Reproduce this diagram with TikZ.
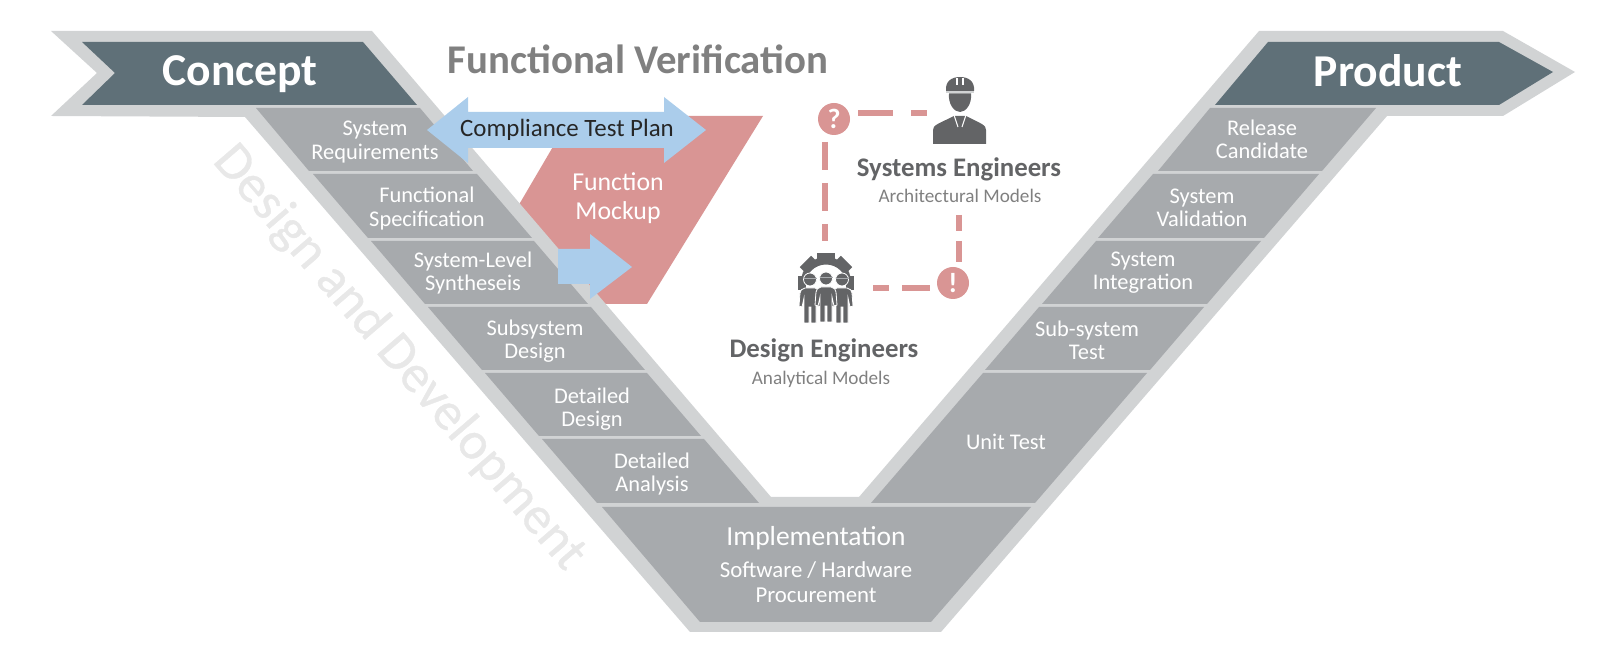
\documentclass[tikz,border=0pt]{standalone}
\usepackage{xcolor}
\usepackage{fontspec}
\setmainfont{Carlito}
\newfontfamily\phasefont[FakeBold=0.7]{Carlito}
\definecolor{vgrey}{HTML}{D1D3D4}
\definecolor{bandgrey}{HTML}{A7AAAD}
\definecolor{slate}{HTML}{5F7078}
\definecolor{mockup}{HTML}{D99594}
\definecolor{planblue}{HTML}{ABCDEB}
\definecolor{icongrey}{HTML}{636466}
\newcommand{\bandfont}{\fontsize{11.2}{11.6}\selectfont}
\newcommand{\workerfig}[2]{%
\begin{scope}[shift={(#1,#2)}]
\fill [icongrey,draw=white,line width=0.4] (-10,292) .. controls (-10,289) and (-8,288) .. (-5,287) -- (5,287) .. controls (8,288) and (10,289) .. (10,292) -- (11,305) -- (8,306) -- (6,297) -- (6,322) -- (1,322) -- (1,306) -- (-1,306) -- (-1,322) -- (-6,322) -- (-6,297) -- (-8,306) -- (-11,305) -- cycle;
\fill [icongrey,draw=white,line width=0.4] (0,278.5) circle (6.5);
\draw [bandgrey,line width=0.3pt] (-6.5,277) -- (6.5,277);
\end{scope}}
\tikzset{
  bandtext/.style={text=white,align=center,inner sep=0.75pt,font=\bandfont},
  headtext/.style={text=white,inner sep=0.75pt,text depth=0pt,font=\fontsize{22.8}{24}\selectfont\bfseries},
  roletext/.style={text=icongrey,inner sep=0.75pt,font=\fontsize{13.4}{14}\selectfont\bfseries},
  modeltext/.style={text=black!50,inner sep=0.75pt,font=\fontsize{9.6}{11}\selectfont},
  alertmark/.style={circle,fill=mockup,text=white,minimum size=16pt,inner sep=0pt,font=\fontsize{14}{15}\selectfont\bfseries},
  linkdash/.style={draw=mockup,line width=2.7pt}
}
\begin{document}
\begin{tikzpicture}[x=0.5pt,y=0.5pt,yscale=-1,xscale=1]
\useasboundingbox (0,0) rectangle (1600,672);
%Mockup behind the V
\fill [mockup] (571,116) -- (763,116) -- (647,304) -- (560,304) -- (500,237) -- cycle;
%Outer V
\fill [vgrey] (51,31) -- (372,31) -- (771,497) -- (859,497) -- (1259,31) -- (1503,31) -- (1575,72) -- (1503,116) -- (1387,116) -- (941,632) -- (690,632) -- (245,117) -- (51,116) -- (97,73) -- cycle;
\fill [slate] (82,42) -- (363,42) -- (417,105) -- (82,105) -- (115,73) -- cycle;
\fill [slate] (1268,42) -- (1499,42) -- (1553,72) -- (1499,105) -- (1215,105) -- cycle;
%Left arm
\fill [bandgrey] (256,108) -- (420,108) -- (473,171) -- (309,171) -- cycle;
\fill [bandgrey] (313,174) -- (477,174) -- (532,238) -- (368,238) -- cycle;
\fill [bandgrey] (371,241) -- (534,241) -- (588,304) -- (425,304) -- cycle;
\fill [bandgrey] (428,307) -- (591,307) -- (645,370) -- (482,370) -- cycle;
\fill [bandgrey] (485,373) -- (647,373) -- (701,436) -- (539,436) -- cycle;
\fill [bandgrey] (542,439) -- (704,439) -- (759,503) -- (597,503) -- cycle;
%Right arm
\fill [bandgrey] (1210,108) -- (1376,108) -- (1322,171) -- (1158,171) -- cycle;
\fill [bandgrey] (1153,174) -- (1319,174) -- (1264,238) -- (1098,238) -- cycle;
\fill [bandgrey] (1096,241) -- (1261,241) -- (1207,304) -- (1042,304) -- cycle;
\fill [bandgrey] (1039,307) -- (1204,307) -- (1150,370) -- (985,370) -- cycle;
\fill [bandgrey] (983,373) -- (1147,373) -- (1035,503) -- (871,503) -- cycle;
%Bottom
\fill [bandgrey] (602,507) -- (1031,507) -- (931,622) -- (700,622) -- cycle;
%Blue arrows
\fill [planblue] (427,130) -- (468,97) -- (468,112) -- (664,112) -- (664,97) -- (706,130) -- (664,163) -- (664,148) -- (468,148) -- (468,163) -- cycle;
\fill [planblue] (558,249) -- (590,249) -- (590,234) -- (632,267) -- (590,299) -- (590,284) -- (558,284) -- cycle;
%Text
\draw (240,71) node (concept) [headtext] {Concept};
\draw (1388,71) node (product) [headtext] {Product};
\draw (638,59) node (verification) [inner sep=0.75pt,text=black!50,font=\fontsize{20.4}{22}\selectfont\bfseries] {Functional Verification};
\draw (399,358) node (design) [inner sep=0.75pt,rotate=-49.3,text=black!9,font=\phasefont\fontsize{26.6}{27}\selectfont] {Design and Development};
\draw (375,142) node (sysreq) [bandtext] {System\\Requirements};
\draw (427,208.5) node (funcspec) [bandtext] {Functional\\Specification};
\draw (473,273) node (synth) [bandtext] {System-Level\\Syntheseis};
\draw (535,341) node (subdes) [bandtext] {Subsystem\\Design};
\draw (592,409) node (detdes) [bandtext] {Detailed\\Design};
\draw (652,474) node (detana) [bandtext] {Detailed\\Analysis};
\draw (816,538.5) node (impl) [bandtext,font=\fontsize{13.75}{15}\selectfont] {Implementation};
\draw (816,582) node (procure) [bandtext,font=\fontsize{11.4}{12.6}\selectfont] {Software / Hardware\\Procurement};
\draw (1262,139.5) node (release) [bandtext] {Release\\Candidate};
\draw (1202,208) node (sysval) [bandtext] {System\\Validation};
\draw (1143,273) node (sysint) [bandtext] {System\\Integration};
\draw (1087,340) node (subtest) [bandtext] {Sub-system\\Test};
\draw (1006,442) node (unit) [bandtext] {Unit Test};
\draw (567,130) node (plan) [inner sep=0.75pt,text=black!85,font=\fontsize{12.45}{14}\selectfont] {Compliance Test Plan};
\draw (618,198.5) node (mock) [bandtext,font=\fontsize{12.9}{14.4}\selectfont] {Function\\Mockup};
\draw (959,169) node (syseng) [roletext] {Systems Engineers};
\draw (960,196) node (archmod) [modeltext] {Architectural Models};
\draw (824,350) node (deseng) [roletext] {Design Engineers};
\draw (821,379) node (anamod) [modeltext] {Analytical Models};
%Systems engineer
\fill [icongrey] (946,91) .. controls (945,81) and (952,77) .. (960,77) .. controls (968,77) and (975,81) .. (974,91) -- cycle;
\fill [icongrey] (949,93.5) -- (971,93.5) .. controls (972,104) and (966,112) .. (960,112) .. controls (954,112) and (948,104) .. (949,93.5) -- cycle;
\fill [icongrey] (933,144) -- (933,130) .. controls (933,125) and (938,124) .. (954,116) -- (966,116) .. controls (982,124) and (986,125) .. (986,130) -- (986,144) -- cycle;
\draw [vgrey,line width=0.8pt] (946,92) -- (974,92);
\draw [white,line width=0.7pt] (957,78) -- (957,85);
\draw [white,line width=0.7pt] (963,78) -- (963,85);
\draw [white,line width=0.5pt] (954,115) -- (958,127);
\draw [white,line width=0.5pt] (966,115) -- (962,127);
%Design engineers
\fill [icongrey,even odd rule] (826,282) circle (25) (826,285) circle (20.5);
\fill [white] (790,296) rectangle (862,330);
\fill [icongrey] (817,253) -- (835,253) -- (835,262) -- (817,262) -- cycle;
\fill [icongrey] (798,276) -- (806,276) -- (806,290) -- (798,290) -- cycle;
\fill [icongrey] (846,276) -- (854,276) -- (854,290) -- (846,290) -- cycle;
\fill [icongrey,rotate around={-45:(826,282)}] (818,253) -- (834,253) -- (834,262) -- (818,262) -- cycle;
\fill [icongrey,rotate around={45:(826,282)}] (818,253) -- (834,253) -- (834,262) -- (818,262) -- cycle;
\workerfig{810}{1}
\workerfig{842}{1}
\workerfig{826}{0}
%Links
\draw (834,119) node (qmark) [alertmark] {?};
\draw (953,283) node (emark) [alertmark] {!};
\coordinate (qeast) at (858,113);
\coordinate (syswest) at (927,113);
\coordinate (qsouth) at (825,142);
\coordinate (desnorth) at (825,241);
\coordinate (syssouth) at (959,215);
\coordinate (enorth) at (959,262);
\coordinate (deseast) at (873,288);
\coordinate (ewest) at (930,288);
\draw [linkdash,dash pattern=on 17.5pt off 9pt] (qeast) -- (syswest);
\draw [linkdash,dash pattern=on 14pt off 6.5pt] (qsouth) -- (desnorth);
\draw [linkdash,dash pattern=on 8pt off 5pt on 10.5pt off 5pt] (syssouth) -- (enorth);
\draw [linkdash,dash pattern=on 8pt off 6.5pt on 14pt off 6.5pt] (deseast) -- (ewest);
\end{tikzpicture}
\end{document}
